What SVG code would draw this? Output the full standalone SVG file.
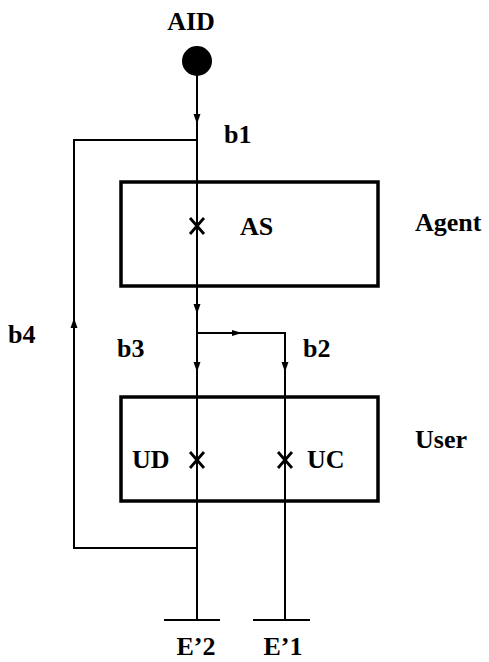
<svg xmlns="http://www.w3.org/2000/svg" width="489" height="662" viewBox="0 0 489 662">
<style>
.ln{stroke:#000;stroke-width:2;fill:none}
.box{stroke:#000;stroke-width:3.5;fill:none}
.x{stroke:#000;stroke-width:2.8;fill:none}
.t{font-family:'Liberation Serif','Times New Roman',Times,serif;font-weight:bold;font-size:26px;fill:#000}
</style>
<defs>
<path id="ad" d="M-3.5,-10 L3.5,-10 L0,0 Z" fill="#000"/>
<path id="au" d="M-3.5,10 L3.5,10 L0,0 Z" fill="#000"/>
<path id="ar" d="M-10,-3 L-10,3 L0,0 Z" fill="#000"/>
<path id="xm" d="M-7,-8 L7,8 M7,-8 L-7,8" class="x"/>
</defs>
<rect width="489" height="662" fill="#fff"/>
<g id="connectors">
<line class="ln" x1="197" y1="72" x2="197" y2="620"/>
<polyline class="ln" points="197,140 74,140 74,548 197,548"/>
<polyline class="ln" points="197,333 285,333 285,620"/>
<line class="ln" x1="164" y1="620" x2="220" y2="620"/>
<line class="ln" x1="253" y1="620" x2="310" y2="620"/>
<use href="#ad" x="197" y="124"/>
<use href="#ad" x="197" y="314"/>
<use href="#ad" x="197" y="372"/>
<use href="#ad" x="285" y="372"/>
<use href="#ar" x="242" y="333"/>
<use href="#au" x="74" y="318"/>
</g>
<g id="AID" class="t">
<circle cx="197" cy="61" r="15" fill="#000"/>
<text x="191" y="30" text-anchor="middle">AID</text>
</g>
<g id="agent" class="t">
<rect class="box" x="121" y="182" width="257" height="104"/>
<use href="#xm" x="197" y="226"/>
<text x="240" y="235">AS</text>
<text x="415" y="231">Agent</text>
</g>
<g id="user" class="t">
<rect class="box" x="121" y="397" width="257" height="104"/>
<use href="#xm" x="197" y="460"/>
<use href="#xm" x="285" y="460"/>
<text x="132" y="468">UD</text>
<text x="307" y="468">UC</text>
<text x="415" y="448">User</text>
</g>
<g id="labels" class="t">
<text x="224" y="143">b1</text>
<text x="8" y="343">b4</text>
<text x="117" y="357">b3</text>
<text x="303" y="357">b2</text>
<text x="196" y="655" text-anchor="middle">E’2</text>
<text x="283" y="655" text-anchor="middle">E’1</text>
</g>
</svg>
